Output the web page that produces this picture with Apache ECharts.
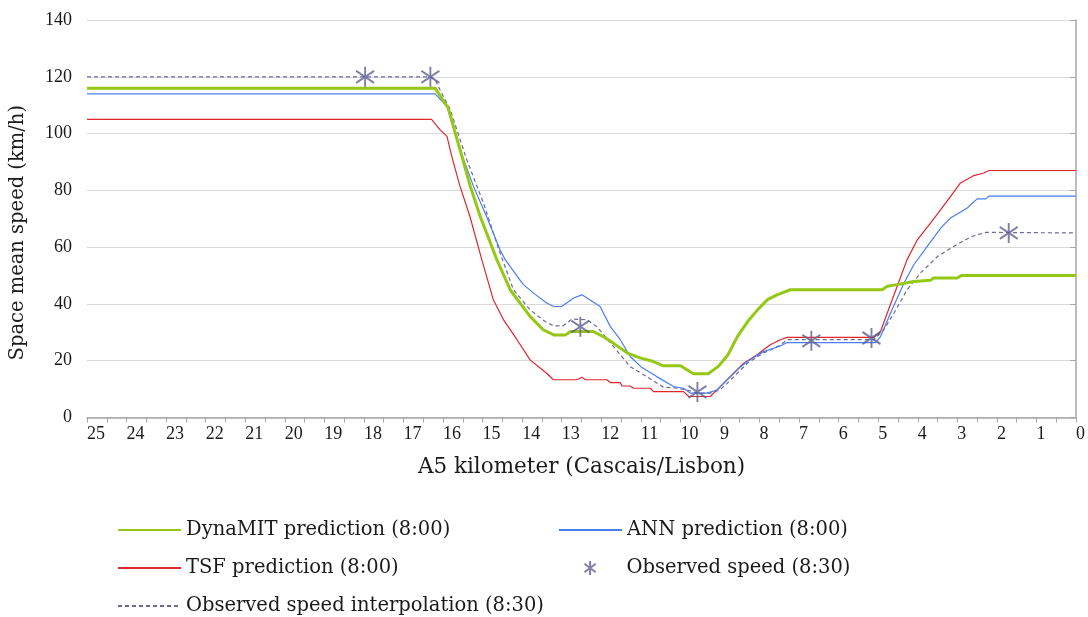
<!DOCTYPE html>
<html>
<head>
<meta charset="utf-8">
<script src="https://cdn.jsdelivr.net/npm/echarts@6/dist/echarts.min.js"></script>
<style>
  * { margin: 0; padding: 0; }
  body { background: #fff; }
</style>
</head>
<body>
<!-- chart container -->
<div id="main" style="width: 1088px; height: 617px"></div>
<script>
// km position along the A5 and speed (km/h)
var dynamitLine = [
  [25, 116], [16.2, 116], [15.87, 109], [15.57, 94.3], [15.31, 81.4], [15.06, 70.8],
  [14.64, 55.6], [14.3, 44.9], [13.8, 35.6], [13.47, 30.9], [13.2, 29.1], [12.9, 29.1],
  [12.78, 30.3], [12.2, 30.3], [11.95, 28.5], [11.7, 26.2], [11.34, 22.7], [11.0, 20.9],
  [10.68, 19.7], [10.43, 18.2], [10.0, 18.2], [9.67, 15.4], [9.3, 15.4], [9.04, 18],
  [8.8, 22], [8.56, 28.5], [8.3, 33.8], [8.05, 37.9], [7.8, 41.5], [7.56, 43.2],
  [7.22, 45], [4.9, 45], [4.77, 46.2], [4.52, 46.8], [4.1, 47.9], [3.68, 48.3],
  [3.6, 49.1], [3.0, 49.1], [2.9, 50], [0, 50]
];
var annLine = [
  [25, 114], [16.2, 114], [15.9, 109.6], [15.6, 95.5], [15.23, 81.4], [14.9, 70.8],
  [14.56, 59.1], [14.43, 55.6], [13.97, 46.8], [13.71, 43.8], [13.38, 40.3], [13.2, 39.1],
  [13.0, 39.1], [12.7, 42.1], [12.49, 43.2], [12.36, 42.1], [12.03, 39.1], [11.77, 32],
  [11.52, 27.4], [11.27, 21.5], [11.0, 17.9], [10.6, 14.4], [10.17, 10.9], [9.92, 10.3],
  [9.75, 8.6], [9.33, 8.6], [9.07, 9.7], [8.82, 13.3], [8.57, 16.8], [8.31, 19.7],
  [7.9, 23.2], [7.47, 25.2], [7.3, 26.4], [5.07, 26.4], [4.94, 28.5], [4.69, 36.7],
  [4.35, 47.3], [4.1, 53.8], [3.76, 60.3], [3.42, 66.7], [3.17, 70.3], [2.75, 73.8],
  [2.5, 77], [2.28, 77], [2.2, 78], [0, 78]
];
var tsfLine = [
  [25, 105], [16.29, 105], [16.08, 101.4], [15.9, 99], [15.78, 92], [15.57, 81.4],
  [15.32, 70.8], [15.02, 55.6], [14.73, 41.5], [14.47, 34.4], [14.13, 27.4], [13.8, 20.3],
  [13.38, 15.6], [13.21, 13.3], [12.62, 13.3], [12.49, 14.2], [12.4, 13.3], [11.86, 13.3],
  [11.77, 12.3], [11.52, 12.3], [11.48, 11.1], [11.27, 11.1], [11.18, 10.3], [10.76, 10.3],
  [10.68, 9.1], [9.92, 9.1], [9.79, 7.4], [9.24, 7.4], [9.16, 8.6], [8.91, 12.0],
  [8.65, 15.6], [8.4, 19.1], [8.06, 22.1], [7.73, 25.6], [7.47, 27.4], [7.3, 28.2],
  [5.11, 28.2], [4.94, 30.3], [4.77, 36.8], [4.52, 46.2], [4.27, 55.6], [4.01, 62.6],
  [3.68, 68.5], [3.42, 73.2], [3.17, 77.9], [2.92, 82.6], [2.58, 85.2], [2.33, 86.1],
  [2.2, 87], [0, 87]
];
var interpLine = [
  [25, 120], [16.32, 120], [16.2, 119], [16.08, 115.5], [15.82, 108.5], [15.4, 90.8],
  [14.98, 75.6], [14.56, 58], [14.22, 45], [13.8, 37.9], [13.42, 33.8], [13.21, 32.3],
  [12.96, 32.3], [12.74, 34.7], [12.36, 34.4], [12.11, 32], [11.69, 25], [11.27, 17.9],
  [10.85, 14.4], [10.43, 10.7], [10.09, 10.3], [9.83, 9.7], [9.58, 8.6], [9.24, 8.6],
  [9.0, 9.7], [8.82, 12], [8.31, 19.1], [7.9, 22.7], [7.47, 25.5], [7.3, 27.4],
  [5.11, 27.4], [4.86, 30.9], [4.6, 36.8], [4.27, 45], [3.93, 50.9], [3.5, 56.7],
  [3.09, 60.3], [2.66, 63.6], [2.28, 65.2], [0, 65]
];
var observed = [
  [17.97, 120], [16.32, 120], [12.53, 32], [9.57, 9], [6.69, 27], [5.17, 28], [1.7, 65]
];

var seriesNames = [
  "DynaMIT prediction (8:00)",
  "ANN prediction (8:00)",
  "TSF prediction (8:00)",
  "Observed speed (8:30)",
  "Observed speed interpolation (8:30)"
];

var numFont = "Liberation Serif";
var textFont = "DejaVu Serif";
var textColor = "#1a1a1a";
var axisGray = "#a6a6a6";
// asterisk marker: vertical stroke plus an X
var starPath = "path://M0,-10L0,10M-8,-6L8,6M-8,6L8,-6";

// one legend per entry so each sits where the reference has it
function legendItem(name, left, top, hideSymbol) {
  return {
    orient: "horizontal",
    left: left,
    top: top,
    itemWidth: 63,
    itemHeight: 14,
    itemStyle: hideSymbol ? { opacity: 0 } : {},
    textStyle: { fontFamily: textFont, fontSize: 19.5, color: textColor },
    data: [name],
  };
}

var chart = echarts.init(document.getElementById("main"));
chart.setOption({
  animation: false,
  textStyle: { fontFamily: numFont, color: textColor },
  grid: { left: 87, right: 12, top: 20, height: 397.5, outerBoundsMode: "none" },
  legend: [
    legendItem(seriesNames[0], 112, 515, true),
    legendItem(seriesNames[1], 553, 515, true),
    legendItem(seriesNames[2], 112, 553, true),
    legendItem(seriesNames[3], 577, 553, false),
    legendItem(seriesNames[4], 112, 591, true),
  ],
  graphic: [
    {
      type: "text",
      left: 8,
      top: 105,
      rotation: Math.PI / 2,
      style: {
        text: "Space mean speed (km/h)",
        fontFamily: textFont,
        fontSize: 19.5,
        fill: textColor,
      },
    },
  ],
  xAxis: {
    type: "value",
    inverse: true,
    min: 0,
    max: 25,
    interval: 0.5,
    name: "A5 kilometer (Cascais/Lisbon)",
    nameLocation: "middle",
    nameGap: 39,
    nameTextStyle: { fontFamily: textFont, fontSize: 21.5, color: textColor },
    axisLine: { lineStyle: { color: axisGray, width: 1.5 } },
    axisTick: { show: true, length: 5, lineStyle: { color: axisGray } },
    axisLabel: {
      align: "left",
      margin: 8,
      fontFamily: numFont,
      fontSize: 18,
      color: textColor,
      formatter: function (v) {
        return v % 1 === 0 ? String(v) : "";
      },
    },
    splitLine: { show: false },
  },
  yAxis: {
    type: "value",
    min: 0,
    max: 140,
    interval: 20,
    axisLine: { show: true, lineStyle: { color: axisGray, width: 1.5 } },
    axisTick: { show: true, length: 6, lineStyle: { color: axisGray } },
    axisLabel: { margin: 15, fontFamily: numFont, fontSize: 18, color: textColor },
    splitLine: { lineStyle: { color: "#d9d9d9", width: 1.2 } },
  },
  series: [
    {
      name: seriesNames[4],
      type: "line",
      data: interpLine,
      symbol: "none",
      lineStyle: { color: "#6a6a9a", width: 1.2, type: [4, 3] },
      itemStyle: { color: "#6a6a9a" },
      z: 2,
    },
    {
      name: seriesNames[2],
      type: "line",
      data: tsfLine,
      symbol: "none",
      lineStyle: { color: "#e2262b", width: 1.2 },
      itemStyle: { color: "#e2262b" },
      z: 3,
    },
    {
      name: seriesNames[1],
      type: "line",
      data: annLine,
      symbol: "none",
      lineStyle: { color: "#4a7ef0", width: 1.2 },
      itemStyle: { color: "#4a7ef0" },
      z: 3,
    },
    {
      name: seriesNames[0],
      type: "line",
      data: dynamitLine,
      symbol: "none",
      lineStyle: { color: "#94c814", width: 3 },
      itemStyle: { color: "#94c814" },
      z: 4,
    },
    {
      name: seriesNames[3],
      type: "scatter",
      data: observed,
      symbol: starPath,
      symbolSize: [18, 20],
      itemStyle: { color: "none", borderColor: "#5f5f95", borderWidth: 2 },
      z: 5,
    },
  ],
});
</script>
</body>
</html>
